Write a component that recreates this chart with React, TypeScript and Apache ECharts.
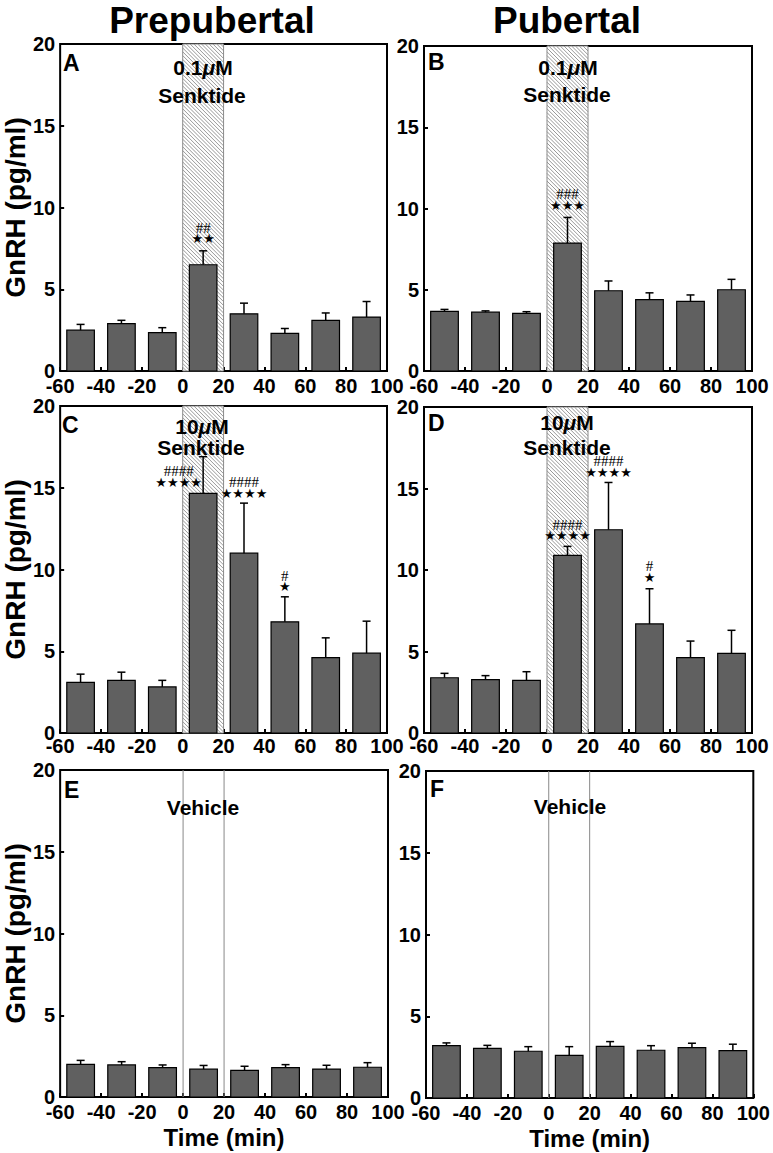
import React, { useEffect, useRef } from "react";
import * as echarts from "echarts";

// ---- data ----
const timePoints = [-50, -30, -10, 10, 30, 50, 70, 90];
const xTicks = [-60, -40, -20, 0, 20, 40, 60, 80, 100];
const yTicks = [0, 5, 10, 15, 20];

const meanA = [2.5, 2.9, 2.35, 6.5, 3.5, 2.3, 3.1, 3.3];
const semA = [0.35, 0.2, 0.3, 0.85, 0.65, 0.3, 0.45, 0.95];
const meanB = [3.67, 3.62, 3.55, 7.87, 4.94, 4.39, 4.28, 5.0];
const semB = [0.12, 0.08, 0.1, 1.58, 0.6, 0.42, 0.4, 0.64];
const meanC = [3.1, 3.22, 2.82, 14.65, 11.0, 6.8, 4.61, 4.88];
const semC = [0.5, 0.5, 0.4, 2.25, 3.06, 1.53, 1.21, 1.96];
const meanD = [3.39, 3.27, 3.23, 10.9, 12.47, 6.69, 4.62, 4.89];
const semD = [0.27, 0.25, 0.53, 0.55, 2.9, 2.16, 1.02, 1.41];
const meanE = [2.0, 1.96, 1.8, 1.7, 1.63, 1.8, 1.71, 1.82];
const semE = [0.24, 0.2, 0.16, 0.23, 0.25, 0.18, 0.23, 0.28];
const meanF = [3.2, 3.04, 2.86, 2.61, 3.16, 2.92, 3.08, 2.9];
const semF = [0.17, 0.18, 0.28, 0.53, 0.29, 0.28, 0.27, 0.39];

// annotations: [x, y (stars), count]
const annoA = [[10, 8.1, 2]];
const annoB = [[10, 10.2, 3]];
const annoC = [[-2, 15.35, 4], [30, 14.66, 4], [50, 8.96, 1]];
const annoD = [[10, 12.1, 4], [30, 16.0, 4], [50, 9.55, 1]];
const annoE: number[][] = [];
const annoF: number[][] = [];

const stimWindow = [0, 20];
const panelLetters = ["A", "B", "C", "D", "E", "F"];
const columnTitles = ["Prepubertal", "Pubertal"];
const yAxisTitle = "GnRH (pg/ml)";
const xAxisTitle = "Time (min)";

const FONT = "'Liberation Sans', Arial, Helvetica, sans-serif";
const BAR_COLOR = "#606060";
const BAR_HALF = 6.75;

const grids = [
  { left: 58, top: 44, width: 329, height: 327 },
  { left: 424, top: 46, width: 328, height: 325 },
  { left: 58, top: 406, width: 329, height: 327 },
  { left: 424, top: 407, width: 328, height: 326 },
  { left: 60, top: 770, width: 328, height: 327 },
  { left: 426, top: 771, width: 328, height: 327 },
];
const xLabelMargins = [5, 5, 3, 3, 5, 5];

const panels = [
  { mean: meanA, sem: semA, anno: annoA, kind: "hatch" },
  { mean: meanB, sem: semB, anno: annoB, kind: "hatch" },
  { mean: meanC, sem: semC, anno: annoC, kind: "hatch" },
  { mean: meanD, sem: semD, anno: annoD, kind: "hatch" },
  { mean: meanE, sem: semE, anno: annoE, kind: "lines" },
  { mean: meanF, sem: semF, anno: annoF, kind: "lines" },
];

function hatchRender(params: any, api: any) {
  const x0v = api.value(0);
  const x1v = api.value(1);
  const tl = api.coord([x0v, 20]);
  const br = api.coord([x1v, 0]);
  const x0 = tl[0], y0 = tl[1], x1 = br[0], y1 = br[1];
  const children: any[] = [];
  children.push({
    type: "rect",
    shape: { x: x0, y: y0, width: x1 - x0, height: y1 - y0 },
    style: { fill: "#ffffff", stroke: "#8a8a8a", lineWidth: 1 },
  });
  const step = 3.8;
  for (let c = x0 - y1; c <= x1 - y0; c += step) {
    const ya = Math.max(y0, x0 - c);
    const yb = Math.min(y1, x1 - c);
    if (yb <= ya) continue;
    children.push({
      type: "line",
      shape: { x1: ya + c, y1: ya, x2: yb + c, y2: yb },
      style: { stroke: "#8c8c8c", lineWidth: 0.9 },
    });
  }
  return { type: "group", children };
}

function linesRender(params: any, api: any) {
  const children: any[] = [];
  for (let i = 0; i < 2; i++) {
    const v = api.value(i);
    const top = api.coord([v, 20]);
    const bot = api.coord([v, 0]);
    children.push({
      type: "line",
      shape: { x1: top[0], y1: top[1], x2: bot[0], y2: bot[1] },
      style: { stroke: "#888", lineWidth: 1 },
    });
  }
  return { type: "group", children };
}

function barRender(params: any, api: any) {
  const x = api.value(0);
  const m = api.value(1);
  const s = api.value(2);
  const p0 = api.coord([x - BAR_HALF, 0]);
  const p1 = api.coord([x + BAR_HALF, m]);
  const pe = api.coord([x, m + s]);
  return {
    type: "group",
    children: [
      {
        type: "rect",
        shape: { x: p0[0], y: p1[1], width: p1[0] - p0[0], height: p0[1] - p1[1] },
        style: { fill: BAR_COLOR, stroke: "#000", lineWidth: 1.2 },
      },
      {
        type: "line",
        shape: { x1: pe[0], y1: p1[1], x2: pe[0], y2: pe[1] },
        style: { stroke: "#000", lineWidth: 1.5 },
      },
      {
        type: "line",
        shape: { x1: pe[0] - 4, y1: pe[1], x2: pe[0] + 4, y2: pe[1] },
        style: { stroke: "#000", lineWidth: 1.5 },
      },
    ],
  };
}

function annoRender(params: any, api: any) {
  const x = api.value(0);
  const y = api.value(1);
  const n = api.value(2);
  const p = api.coord([x, y]);
  return {
    type: "group",
    children: [
      {
        type: "text",
        x: p[0],
        y: p[1],
        style: {
          text: "★".repeat(n),
          fontSize: 13,
          fontFamily: "'DejaVu Sans', sans-serif",
          fill: "#000",
          textAlign: "center",
          textVerticalAlign: "middle",
        },
      },
      {
        type: "text",
        x: p[0],
        y: p[1] - 11,
        style: {
          text: "#".repeat(n),
          fontSize: 15,
          fontFamily: "'Liberation Serif', 'Times New Roman', serif",
          fill: "#000",
          textAlign: "center",
          textVerticalAlign: "middle",
        },
      },
    ],
  };
}

// in-panel static labels (pixel positions)
const panelTextDefs = [
  { letter: [63, 63], lines: [["0.1", 203, 67], ["Senktide", 202, 95]] },
  { letter: [428, 62], lines: [["0.1", 568, 67], ["Senktide", 567, 94]] },
  { letter: [62, 425], lines: [["10", 202, 426], ["Senktide", 201, 447]] },
  { letter: [428, 423], lines: [["10", 567, 422], ["Senktide", 567, 447]] },
  { letter: [64, 790], lines: [["Vehicle", 203, 807]] },
  { letter: [430, 789], lines: [["Vehicle", 570, 806]] },
];

function buildGraphic() {
  const g: any[] = [];
  g.push({
    type: "text", x: 212, y: 20,
    style: { text: columnTitles[0], fontSize: 37, fontWeight: "bold", fontFamily: FONT, fill: "#000", textAlign: "center", textVerticalAlign: "middle" },
  });
  g.push({
    type: "text", x: 567, y: 20,
    style: { text: columnTitles[1], fontSize: 37, fontWeight: "bold", fontFamily: FONT, fill: "#000", textAlign: "center", textVerticalAlign: "middle" },
  });
  panelTextDefs.forEach((d, i) => {
    g.push({
      type: "text", x: d.letter[0], y: d.letter[1], z: 10,
      style: { text: panelLetters[i], fontSize: 23, fontWeight: "bold", fontFamily: FONT, fill: "#000", textAlign: "left", textVerticalAlign: "middle" },
    });
    d.lines.forEach((ln: any, j: number) => {
      const isConc = j === 0 && d.lines.length === 2;
      const style: any = {
        fontSize: 21, fontWeight: "bold", fontFamily: FONT, fill: "#000", textAlign: "center", textVerticalAlign: "middle",
      };
      if (isConc) {
        style.text = "{a|" + ln[0] + "}{b|μ}{a|M}";
        style.rich = {
          a: { fontSize: 21, fontWeight: "bold", fontFamily: FONT, fill: "#000" },
          b: { fontSize: 21, fontWeight: "bold", fontStyle: "italic", fontFamily: FONT, fill: "#000" },
        };
      } else {
        style.text = ln[0];
      }
      g.push({ type: "text", x: ln[1], y: ln[2], z: 10, style });
    });
  });
  return g;
}

export default function App() {
  const ref = useRef<HTMLDivElement>(null);
  useEffect(() => {
    if (!ref.current) return;
    const chart = echarts.init(ref.current, null, { renderer: "svg" });
    const grid = grids.map((g) => ({
      ...g,
      show: true,
      borderColor: "#000",
      borderWidth: 2,
      backgroundColor: "transparent",
      containLabel: false,
    }));
    const xAxis = grids.map((_, i) => ({
      type: "value",
      gridIndex: i,
      min: xTicks[0],
      max: xTicks[xTicks.length - 1],
      interval: 20,
      axisLine: { show: false, onZero: false },
      axisTick: { show: true, inside: true, length: 4, lineStyle: { color: "#000", width: 2 } },
      splitLine: { show: false },
      axisLabel: {
        margin: xLabelMargins[i],
        fontSize: 20,
        fontWeight: "bold",
        fontFamily: FONT,
        color: "#000",
        showMinLabel: true,
        showMaxLabel: true,
        hideOverlap: false,
      },
      name: i >= 4 ? xAxisTitle : "",
      nameLocation: "middle",
      nameGap: 28,
      nameTextStyle: { fontSize: 24, fontWeight: "bold", fontFamily: FONT, color: "#000" },
    }));
    const yAxis = grids.map((_, i) => ({
      type: "value",
      gridIndex: i,
      min: yTicks[0],
      max: yTicks[yTicks.length - 1],
      interval: 5,
      axisLine: { show: false, onZero: false },
      axisTick: { show: true, inside: true, length: 4, lineStyle: { color: "#000", width: 2 } },
      splitLine: { show: false },
      axisLabel: { margin: 5, fontSize: 20, fontWeight: "bold", fontFamily: FONT, color: "#000" },
      name: i % 2 === 0 ? yAxisTitle : "",
      nameLocation: "middle",
      nameRotate: 90,
      nameGap: 28,
      nameTextStyle: { fontSize: 28, fontWeight: "bold", fontFamily: FONT, color: "#000" },
    }));
    const series: any[] = [];
    panels.forEach((p, i) => {
      series.push({
        type: "custom",
        xAxisIndex: i,
        yAxisIndex: i,
        renderItem: p.kind === "hatch" ? hatchRender : linesRender,
        data: [[stimWindow[0], stimWindow[1]]],
        z: 1,
        silent: true,
      });
      series.push({
        type: "custom",
        xAxisIndex: i,
        yAxisIndex: i,
        renderItem: barRender,
        data: timePoints.map((t, k) => [t, p.mean[k], p.sem[k]]),
        z: 2,
        silent: true,
      });
      if (p.anno.length) {
        series.push({
          type: "custom",
          xAxisIndex: i,
          yAxisIndex: i,
          renderItem: annoRender,
          data: p.anno,
          z: 3,
          silent: true,
        });
      }
    });
    chart.setOption({
      animation: false,
      backgroundColor: "#fff",
      grid,
      xAxis,
      yAxis,
      series,
      graphic: buildGraphic(),
    });
    return () => chart.dispose();
  }, []);
  return (
    <div
      ref={ref}
      style={{ position: "absolute", left: 0, top: 0, width: 773, height: 1153, background: "#fff" }}
    />
  );
}
